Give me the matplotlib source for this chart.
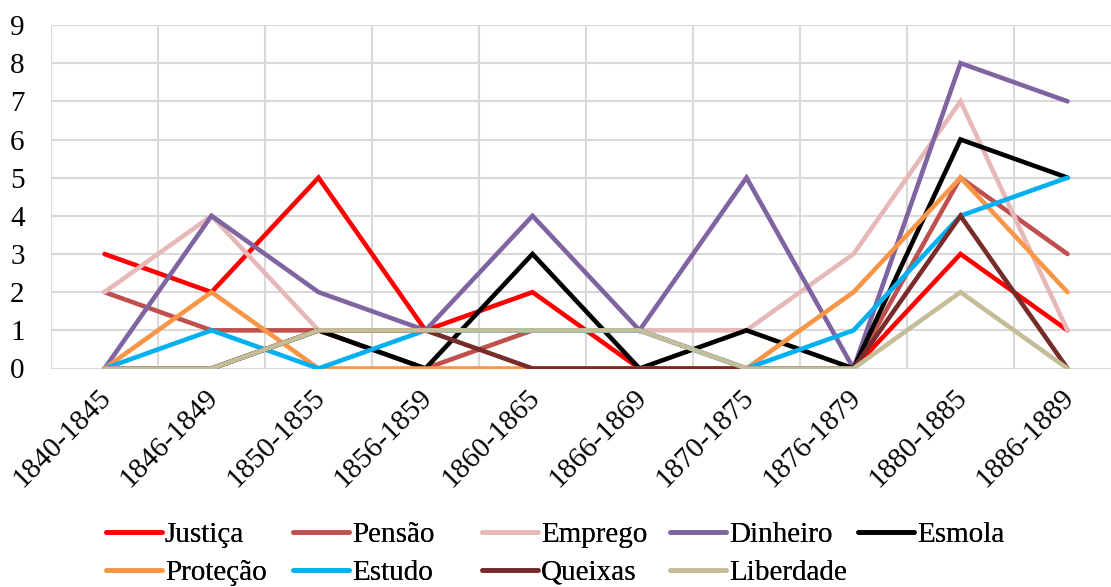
import matplotlib
matplotlib.use("Agg")
import matplotlib.pyplot as plt
import matplotlib.transforms as mtransforms
import numpy as np

periods = ["1840-1845", "1846-1849", "1850-1855", "1856-1859", "1860-1865",
           "1866-1869", "1870-1875", "1876-1879", "1880-1885", "1886-1889"]

justica   = [3, 2, 5, 1, 2, 0, 0, 0, 3, 1]
pensao    = [2, 1, 1, 0, 1, 1, 0, 0, 5, 3]
emprego   = [2, 4, 1, 1, 1, 1, 1, 3, 7, 1]
dinheiro  = [0, 4, 2, 1, 4, 1, 5, 0, 8, 7]
esmola    = [0, 0, 1, 0, 3, 0, 1, 0, 6, 5]
protecao  = [0, 2, 0, 0, 0, 0, 0, 2, 5, 2]
estudo    = [0, 1, 0, 1, 1, 1, 0, 1, 4, 5]
queixas   = [0, 0, 1, 1, 0, 0, 0, 0, 4, 0]
liberdade = [0, 0, 1, 1, 1, 1, 0, 0, 2, 0]

names = ["Justiça", "Pensão", "Emprego", "Dinheiro", "Esmola",
         "Proteção", "Estudo", "Queixas", "Liberdade"]
series = [justica, pensao, emprego, dinheiro, esmola,
          protecao, estudo, queixas, liberdade]
colors = ["#FF0000", "#C0504D", "#E6B9B8", "#8064A2", "#000000",
          "#F79646", "#00B0F0", "#772C2A", "#C4BD97"]

plt.rcParams['font.family'] = ['Liberation Serif', 'DejaVu Serif']
FS = 21

W, H = 1111, 587
fig = plt.figure(figsize=(W / 100, H / 100), dpi=100)
ax = fig.add_axes([51 / W, 1 - 368.5 / H, 1070 / W, (368.5 - 25) / H])

x = np.arange(len(periods))
handles = []
for vals, name, c in zip(series, names, colors):
    h, = ax.plot(x, vals, color=c, lw=3.3, label=name,
                 solid_joinstyle='miter', solid_capstyle='round', zorder=3)
    handles.append(h)

ax.set_xlim(-0.5, len(periods) - 0.5)
ax.set_ylim(0, 9)
ax.set_yticks(range(0, 10))
ax.set_xticks(x)
ax.set_xticklabels(periods, rotation=45, ha='right', va='center',
                   rotation_mode='anchor', fontsize=FS)
ax.tick_params(axis='x', length=0, pad=18)
ax.tick_params(axis='y', length=0, pad=19, labelsize=FS)
shift = mtransforms.ScaledTranslation(3 / 100, 0, fig.dpi_scale_trans)
for lab in ax.get_xticklabels():
    lab.set_transform(lab.get_transform() + shift)

for yy in range(0, 10):
    ax.axhline(yy, color='#D9D9D9', lw=1.5, zorder=1)
for xx in np.arange(-0.5, len(periods), 1.0):
    ax.axvline(xx, color='#D9D9D9', lw=1.5, zorder=1)
for s in ax.spines.values():
    s.set_visible(False)

# Legend: 5 equal-width columns, 2 rows (row-major order)
col_x = [106, 293, 482, 670, 858]
for k in range(5):
    idx = [k] if k + 5 >= len(series) else [k, k + 5]
    leg = fig.legend([handles[i] for i in idx], [names[i] for i in idx],
                     loc='upper left',
                     bbox_to_anchor=(col_x[k] / W, 1 - 522 / H),
                     frameon=False, fontsize=FS, handlelength=1.92,
                     handletextpad=0.1, labelspacing=0.38, borderpad=0,
                     borderaxespad=0)
    fig.add_artist(leg)

fig.savefig("out.png", dpi=100)
